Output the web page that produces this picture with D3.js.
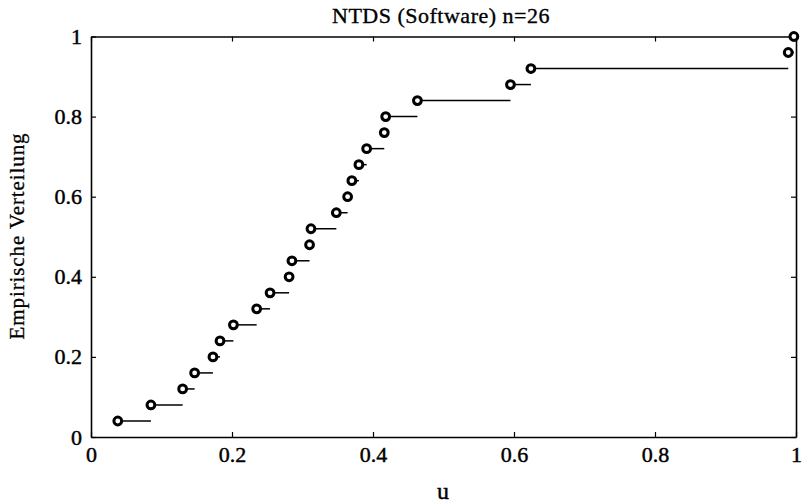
<!DOCTYPE html>
<html>
<head>
<meta charset="utf-8">
<script src="https://cdn.jsdelivr.net/npm/d3@7"></script>
<style>
  body { margin: 0; background: #fff; }
  svg { display: block; }
  text { font-family: "Liberation Serif", "Times New Roman", serif; fill: #000; }
</style>
</head>
<body>
<svg id="chart" width="802" height="503"></svg>
<script>
// Sorted sample values u_i and empirical distribution levels F(u_i)
const uValues = [0.038, 0.085, 0.130, 0.147, 0.173, 0.183, 0.202, 0.235, 0.254, 0.281,
                 0.285, 0.310, 0.312, 0.348, 0.364, 0.370, 0.380, 0.391, 0.416, 0.418,
                 0.463, 0.595, 0.624, 0.989, 0.997];
const fValues = [0.04, 0.08, 0.12, 0.16, 0.20, 0.24, 0.28, 0.32, 0.36, 0.40,
                 0.44, 0.48, 0.52, 0.56, 0.60, 0.64, 0.68, 0.72, 0.76, 0.80,
                 0.84, 0.88, 0.92, 0.96, 1.00];
const xTicks = [0, 0.2, 0.4, 0.6, 0.8, 1];
const yTicks = [0, 0.2, 0.4, 0.6, 0.8, 1];
const titleText = "NTDS (Software) n=26";
const xLabel = "u";
const yLabel = "Empirische Verteilung";

const svg = d3.select("#chart");
const plot = { left: 91, right: 796, top: 36.5, bottom: 437 };
const serif = '"Liberation Serif", "Times New Roman", serif';

const x = d3.scaleLinear().domain([0, 1]).range([plot.left, plot.right]);
const y = d3.scaleLinear().domain([0, 1]).range([plot.bottom, plot.top]);

const fmt = d => d === 0 ? "0" : d === 1 ? "1" : d3.format(".1f")(d);

// Axes with inward ticks on all four sides
const g = svg.append("g");
g.append("g").attr("transform", `translate(0,${plot.bottom})`)
  .call(d3.axisBottom(x).tickValues(xTicks).tickFormat(fmt).tickSizeInner(-5).tickSizeOuter(0).tickPadding(9));
g.append("g").attr("transform", `translate(${plot.left},0)`)
  .call(d3.axisLeft(y).tickValues(yTicks).tickFormat(fmt).tickSizeInner(-5).tickSizeOuter(0).tickPadding(9));
g.append("g").attr("transform", `translate(0,${plot.top})`)
  .call(d3.axisTop(x).tickValues(xTicks).tickFormat("").tickSizeInner(-5).tickSizeOuter(0));
g.append("g").attr("transform", `translate(${plot.right},0)`)
  .call(d3.axisRight(y).tickValues(yTicks).tickFormat("").tickSizeInner(-5).tickSizeOuter(0));

g.selectAll("g").attr("font-family", serif).attr("font-size", 22);
g.selectAll(".domain").attr("stroke", "#000").attr("stroke-width", 1.6);
g.selectAll(".tick line").attr("stroke", "#000").attr("stroke-width", 1.2);
g.selectAll(".tick text")
  .style("font-family", serif)
  .style("font-size", "22px")
  .attr("fill", "#000")
  .attr("stroke", "#000").attr("stroke-width", 0.45);

// Horizontal steps of the empirical distribution
const steps = uValues.slice(0, -1).map((u, i) => ({ x1: u, x2: uValues[i + 1], f: fValues[i] }));
svg.append("g").selectAll("line").data(steps).join("line")
  .attr("x1", d => x(d.x1)).attr("x2", d => x(d.x2))
  .attr("y1", d => y(d.f)).attr("y2", d => y(d.f))
  .attr("stroke", "#000").attr("stroke-width", 1.5);

// Circle markers at each sample point
svg.append("g").selectAll("circle").data(uValues.map((u, i) => ({ u, f: fValues[i] }))).join("circle")
  .attr("cx", d => x(d.u)).attr("cy", d => y(d.f))
  .attr("r", 3.9)
  .attr("fill", "#fff").attr("stroke", "#000").attr("stroke-width", 3);

// Title and axis labels
svg.append("text").attr("x", 441).attr("y", 23).attr("text-anchor", "middle")
  .style("font-size", "22px").style("letter-spacing", "0.5px")
  .attr("stroke", "#000").attr("stroke-width", 0.35).text(titleText);
svg.append("text").attr("x", 443).attr("y", 499).attr("text-anchor", "middle")
  .style("font-size", "24px").attr("stroke", "#000").attr("stroke-width", 0.4).text(xLabel);
svg.append("text").attr("transform", `translate(24,236) rotate(-90)`).attr("text-anchor", "middle")
  .style("font-size", "21px").style("letter-spacing", "0.9px")
  .attr("stroke", "#000").attr("stroke-width", 0.3).text(yLabel);
</script>
</body>
</html>
